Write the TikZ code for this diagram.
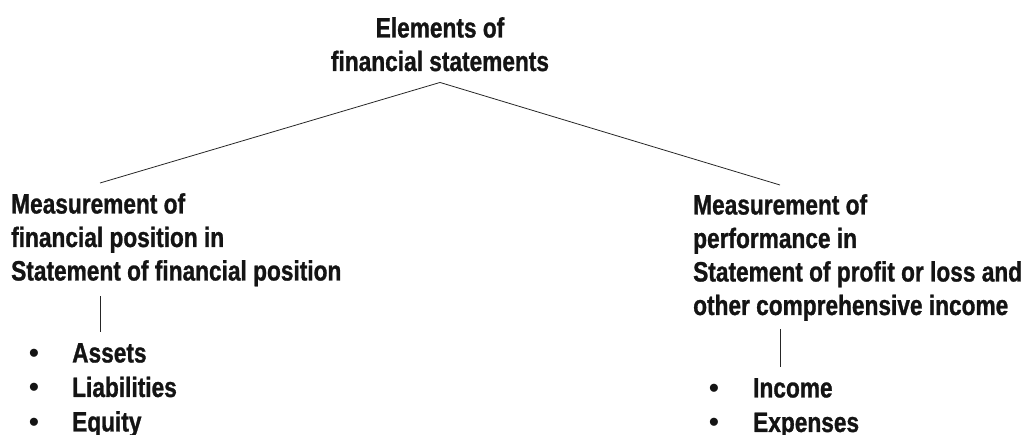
\documentclass[tikz,border=0pt]{standalone}
\usepackage{fontspec}
\setmainfont{Liberation Sans}[FakeStretch=0.81,FakeBold=1]
\newfontfamily\bulletfont{Liberation Sans}
\begin{document}
\begin{tikzpicture}[x=1pt,y=-1pt,
  txt/.style={inner sep=0pt, align=left, text=black!92,
    font=\fontsize{28}{33.5}\selectfont\bfseries},
  lst/.style={txt, font=\fontsize{28}{34.5}\selectfont\bfseries},
  link/.style={draw=black!85, line width=0.8pt}]
\useasboundingbox (0,0) rectangle (1025,435);
\node[txt, align=center, anchor=north] (top) at (440,17)
  {Elements of\\financial statements};
\node[txt, anchor=north west] (L) at (11,193)
  {Measurement of\\financial position in\\Statement of financial position};
\node[txt, anchor=north west] (R) at (693,194)
  {Measurement of\\performance in\\Statement of profit or loss and\\other comprehensive income};
\node[lst, anchor=north west] (LL) at (29,343)
  {\makebox[43pt][l]{\bulletfont •}Assets\\
   \makebox[43pt][l]{\bulletfont •}Liabilities\\
   \makebox[43pt][l]{\bulletfont •}Equity};
\node[lst, anchor=north west] (RL) at (709,378)
  {\makebox[44pt][l]{\bulletfont •}Income\\
   \makebox[44pt][l]{\bulletfont •}Expenses};
\coordinate (lend) at (100,183);
\coordinate (rend) at (780,185);
\draw[link] ([yshift=-11pt]top.south) -- (lend);
\draw[link] ([yshift=-11pt]top.south) -- (rend);
\draw[link] ([xshift=89pt,yshift=-10pt]L.south west) -- ([xshift=71pt,yshift=11pt]LL.north west);
\draw[link] ([xshift=87pt,yshift=-8pt]R.south west) -- ([xshift=71pt,yshift=11pt]RL.north west);
\end{tikzpicture}
\end{document}
